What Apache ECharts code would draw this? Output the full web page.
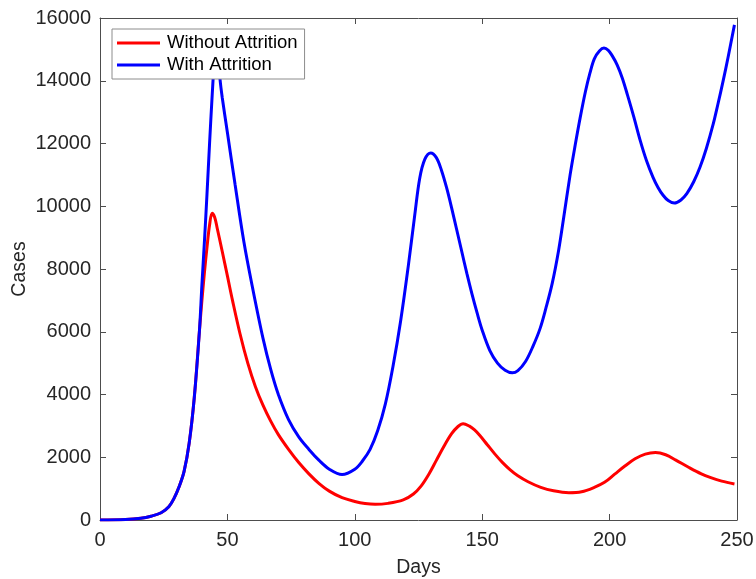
<!DOCTYPE html>
<html>
<head>
<meta charset="utf-8">
<script src="https://cdn.jsdelivr.net/npm/echarts@6/dist/echarts.min.js"></script>
<style>
  html, body { margin: 0; padding: 0; background: #fff; }
  #chart { width: 756px; height: 579px; }
</style>
</head>
<body>
<div id="chart"></div>
<script>
// Simulated daily case counts, two model variants
const seriesNames = ['Without Attrition', 'With Attrition'];

const redDays = [0, 10, 16, 20, 24, 27, 29, 31, 33, 35, 37, 39, 40, 41, 42, 43, 44, 45, 46, 48, 50, 52, 55, 58, 61, 64, 67, 70, 74, 78, 82, 86, 90, 95, 100, 104, 108, 113, 119, 123, 126, 129, 132, 135, 138, 140.5, 142.5, 145, 147, 149, 152, 155, 158, 161, 164, 168, 173, 178, 184, 189, 194, 198, 202, 206, 210, 214, 218, 222, 226, 231, 236, 240, 244, 249];
const redCases = [0, 15, 55, 120, 230, 420, 680, 1050, 1550, 2450, 3900, 6000, 7000, 7900, 8700, 9400, 9780, 9650, 9300, 8550, 7780, 7000, 5920, 5000, 4250, 3650, 3150, 2720, 2250, 1830, 1470, 1160, 920, 710, 590, 525, 500, 530, 640, 830, 1080, 1450, 1900, 2350, 2750, 2980, 3070, 2990, 2870, 2700, 2400, 2100, 1830, 1600, 1410, 1220, 1040, 930, 870, 900, 1040, 1200, 1460, 1720, 1950, 2100, 2150, 2080, 1910, 1680, 1470, 1340, 1240, 1150];

const blueDays = [0, 10, 16, 20, 24, 27, 29, 31, 33, 35, 37, 39, 40, 41, 42, 43, 44, 45, 45.6, 46.4, 47.1, 48, 50, 53, 56.5, 60, 64, 67, 70, 74, 78, 82, 86, 90, 95, 100, 103, 106, 109, 112, 115, 118, 121, 123.5, 125.5, 127.5, 129.8, 132, 134, 136, 138, 140, 142, 144, 146, 148, 150, 153, 156, 159, 161.8, 164, 167, 170, 172.7, 175, 177.5, 180, 182, 184.5, 186.5, 188.4, 190.5, 192.3, 194, 196, 197.8, 199.5, 201, 203, 205, 207, 209.5, 212, 214.5, 217, 219, 221, 223, 225.4, 228, 230.3, 233, 235.5, 238, 240.7, 242.5, 244.6, 246.5, 249];
const blueCases = [0, 15, 55, 120, 230, 420, 680, 1050, 1550, 2450, 3900, 6000, 7500, 8900, 10400, 12000, 13500, 14800, 15150, 14800, 14050, 13450, 12350, 10700, 8850, 7350, 5780, 4800, 4000, 3200, 2650, 2250, 1900, 1620, 1450, 1620, 1880, 2250, 2850, 3700, 4900, 6350, 8100, 9700, 10900, 11500, 11700, 11550, 11150, 10600, 9950, 9250, 8550, 7850, 7200, 6600, 6050, 5400, 5000, 4770, 4690, 4760, 5050, 5550, 6100, 6750, 7550, 8600, 9650, 11000, 11950, 12800, 13650, 14250, 14700, 14950, 15040, 14970, 14800, 14500, 14080, 13550, 12850, 12100, 11450, 10930, 10600, 10350, 10180, 10100, 10200, 10400, 10780, 11250, 11850, 12630, 13250, 14010, 14750, 15780];

const xTicks = { min: 0, max: 250, step: 50 };
const yTicks = { min: 0, max: 16000, step: 2000 };

const pairs = (xs, ys) => xs.map((x, i) => [x, ys[i]]);

const font = '"Liberation Sans", Arial, Helvetica, sans-serif';
const axisColor = '#4d4d4d';
const labelColor = '#262626';

const chart = echarts.init(document.getElementById('chart'), null, { renderer: 'canvas' });

const frameAxis = (extra) => Object.assign({
  type: 'value',
  axisLine: { show: true, onZero: false, lineStyle: { color: axisColor, width: 1 } },
  axisTick: { show: true, inside: true, length: 6, lineStyle: { color: axisColor, width: 1 } },
  splitLine: { show: false },
  axisLabel: { show: false }
}, extra);

const plainNumber = (v) => String(v);

chart.setOption({
  animation: false,
  backgroundColor: '#ffffff',
  grid: { left: 100, top: 18, right: 19, bottom: 59, containLabel: false, outerBoundsMode: 'none' },
  legend: {
    orient: 'vertical',
    left: 112,
    top: 29,
    padding: [3, 7, 3, 5],
    itemGap: 0,
    itemWidth: 43,
    itemHeight: 3,
    icon: 'rect',
    backgroundColor: '#ffffff',
    borderColor: '#8c8c8c',
    borderWidth: 1,
    borderRadius: 0,
    textStyle: { fontFamily: font, fontSize: 18.5, color: '#000', lineHeight: 22, padding: [0, 0, 0, 2] },
    data: seriesNames
  },
  xAxis: [
    frameAxis({
      position: 'bottom',
      min: xTicks.min, max: xTicks.max, interval: xTicks.step,
      name: 'Days', nameLocation: 'middle', nameGap: 38, nameMoveOverlap: false,
      nameTextStyle: { fontFamily: font, fontSize: 19.5, color: labelColor },
      axisLabel: { show: true, margin: 10, fontFamily: font, fontSize: 20, color: labelColor, formatter: plainNumber }
    }),
    frameAxis({ position: 'top', min: xTicks.min, max: xTicks.max, interval: xTicks.step })
  ],
  yAxis: [
    frameAxis({
      position: 'left',
      min: yTicks.min, max: yTicks.max, interval: yTicks.step,
      name: 'Cases', nameLocation: 'middle', nameGap: 70, nameRotate: 90, nameMoveOverlap: false,
      nameTextStyle: { fontFamily: font, fontSize: 19.5, color: labelColor },
      axisLabel: { show: true, margin: 9, fontFamily: font, fontSize: 20, color: labelColor, formatter: plainNumber }
    }),
    frameAxis({ position: 'right', min: yTicks.min, max: yTicks.max, interval: yTicks.step })
  ],
  series: [
    {
      name: seriesNames[0], type: 'line', xAxisIndex: 0, yAxisIndex: 0,
      data: pairs(redDays, redCases),
      smooth: 0.35, showSymbol: false, symbol: 'none',
      lineStyle: { color: '#ff0000', width: 3 }, itemStyle: { color: '#ff0000' },
      z: 2
    },
    {
      name: seriesNames[1], type: 'line', xAxisIndex: 0, yAxisIndex: 0,
      data: pairs(blueDays, blueCases),
      smooth: 0.35, showSymbol: false, symbol: 'none',
      lineStyle: { color: '#0000ff', width: 3 }, itemStyle: { color: '#0000ff' },
      z: 3
    }
  ]
});
</script>
</body>
</html>
